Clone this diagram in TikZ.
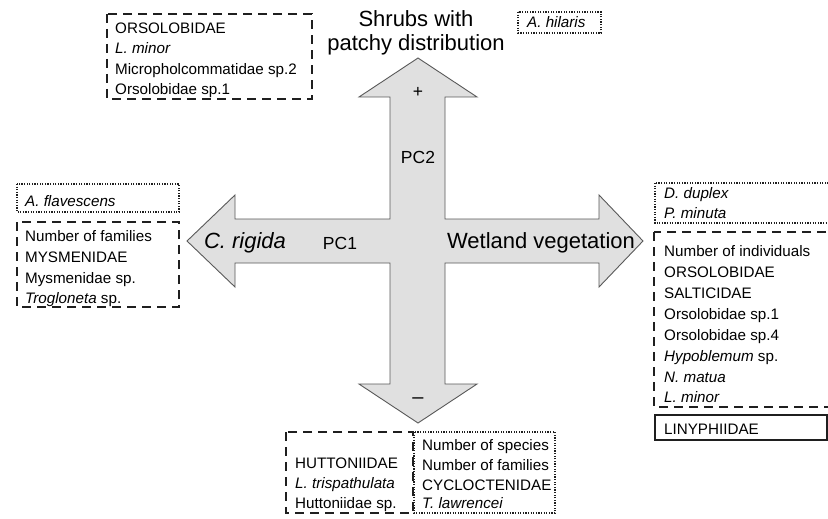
\documentclass[tikz,border=0pt]{standalone}
\usepackage{fontspec}
\setmainfont{Liberation Sans}
\begin{document}
\begin{tikzpicture}[x=1pt,y=-1pt,
  arrowshape/.style={fill=black!12, draw=black!65, line width=0.9pt, line join=miter},
  dashbox/.style={draw=black!88, line width=2pt, dash pattern=on 9pt off 6pt},
  dotbox/.style={draw=black!88, line width=1.6pt, dash pattern=on 1.2pt off 1.4pt},
  solidbox/.style={draw=black!88, line width=2.2pt},
  lt/.style={anchor=base west, inner sep=0pt, font=\fontsize{15.2}{18}\selectfont},
  big/.style={anchor=base, inner sep=0pt, font=\fontsize{22}{26}\selectfont},
  pc/.style={anchor=base, inner sep=0pt, font=\fontsize{17.5}{20}\selectfont}]
\useasboundingbox (0,0) rectangle (828,519);
\clip (0,0) rectangle (828,519);
\fill[white] (0,0) rectangle (828,519);
% cross-shaped double arrow
\draw[arrowshape] (418,58) -- (477,97) -- (445,97) -- (445,219) -- (599,219) -- (599,195)
  -- (643,241) -- (599,287) -- (599,263) -- (445,263) -- (445,384) -- (477,384)
  -- (418,423) -- (359,384) -- (390,384) -- (390,263) -- (235,263) -- (235,287)
  -- (187,241) -- (235,195) -- (235,219) -- (390,219) -- (390,97) -- (359,97) -- cycle;
% axis labels
\node[big] (shrubsA) at (416,27) {Shrubs with};
\node[big] (shrubsB) at (416,51) {patchy distribution};
\node[big] (crig) at (245,248) {\itshape C. rigida};
\node[big] (wet) at (541,248) {Wetland vegetation};
\node[pc] (pc1) at (340,249) {PC1};
\node[pc] (pc2) at (418,163) {PC2};
\node[pc] (plus) at (418,98) {+};
\node[pc,font=\fontsize{20}{22}\selectfont] (minus) at (418,403) {–};
% top-left box
\draw[dashbox] (107,14) rectangle (312,99);
\node[lt] (t1) at (115,34) {ORSOLOBIDAE};
\node[lt] (t2) at (115,54) {\itshape L. minor};
\node[lt] (t3) at (115,74.5) {Micropholcommatidae sp.2};
\node[lt] (t4) at (115,94.5) {Orsolobidae sp.1};
% A. hilaris
\draw[dotbox] (518,12) rectangle (601,33);
\node[lt] (h1) at (527,28) {\itshape A. hilaris};
% left boxes
\draw[dotbox] (17,184) rectangle (179,212);
\node[lt] (f1) at (25,206) {\itshape A. flavescens};
\draw[dashbox] (17,222) rectangle (179,307);
\node[lt] (l1) at (25,241.5) {Number of families};
\node[lt] (l2) at (25,262.5) {MYSMENIDAE};
\node[lt] (l3) at (25,283) {Mysmenidae sp.};
\node[lt] (l4) at (25,303.5) {{\itshape Trogloneta} sp.};
% right boxes
\draw[dotbox] (655,183) rectangle (850,223);
\node[lt] (d1) at (664,198.5) {\itshape D. duplex};
\node[lt] (d2) at (664,218.5) {\itshape P. minuta};
\draw[dashbox] (654,232) rectangle (850,407);
\node[lt] (r1) at (664,256) {Number of individuals};
\node[lt] (r2) at (664,277) {ORSOLOBIDAE};
\node[lt] (r3) at (664,298) {SALTICIDAE};
\node[lt] (r4) at (664,319) {Orsolobidae sp.1};
\node[lt] (r5) at (664,340) {Orsolobidae sp.4};
\node[lt] (r6) at (664,361) {{\itshape Hypoblemum} sp.};
\node[lt] (r7) at (664,382) {\itshape N. matua};
\node[lt] (r8) at (664,402.5) {\itshape L. minor};
\draw[solidbox] (655,415) rectangle (827,440);
\node[lt] (lin) at (664,434) {LINYPHIIDAE};
% bottom boxes
\draw[dashbox] (286,432) rectangle (413,513);
\node[lt] (b1) at (295,468.5) {HUTTONIIDAE};
\node[lt] (b2) at (295,488.5) {\itshape L. trispathulata};
\node[lt] (b3) at (295,508) {Huttoniidae sp.};
\draw[dotbox] (414,432) rectangle (555,513);
\node[lt] (s1) at (422,450) {Number of species};
\node[lt] (s2) at (422,470) {Number of families};
\node[lt] (s3) at (422,490) {CYCLOCTENIDAE};
\node[lt] (s4) at (422,508.5) {\itshape T. lawrencei};
\end{tikzpicture}
\end{document}
